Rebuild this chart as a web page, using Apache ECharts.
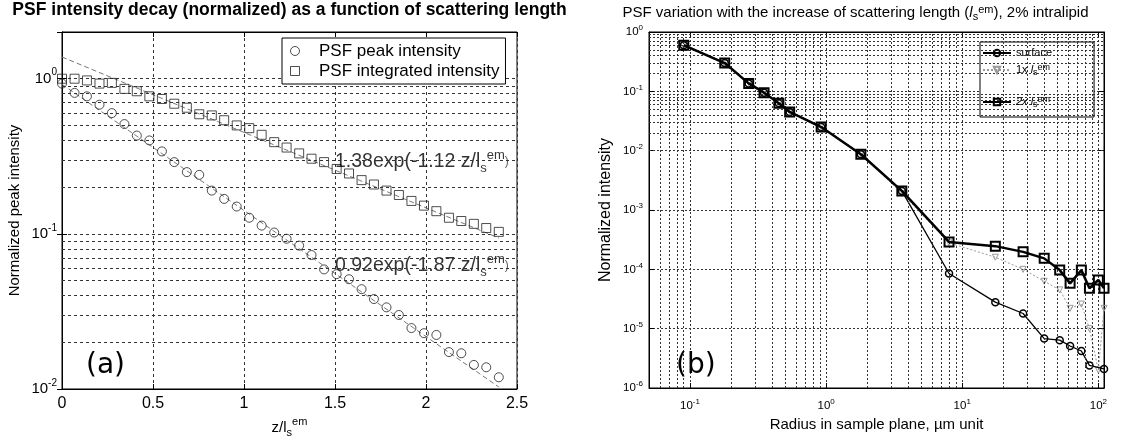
<!DOCTYPE html>
<html><head><meta charset="utf-8">
<script src="https://cdn.jsdelivr.net/npm/echarts@6/dist/echarts.min.js"></script>
<style>html,body{margin:0;padding:0;background:#fff}#c{width:1143px;height:439px}</style>
</head><body><div id="c"></div>
<script>
// ---------- Panel (a) data ----------
const zA = [0,0.069,0.137,0.206,0.274,0.343,0.411,0.48,0.549,0.617,0.686,0.754,0.823,0.891,0.96,1.029,1.097,1.166,1.234,1.303,1.371,1.44,1.509,1.577,1.646,1.714,1.783,1.851,1.92,1.989,2.057,2.126,2.194,2.263,2.331,2.4];
const peakA = [0.93,0.81,0.77,0.68,0.60,0.51,0.43,0.40,0.34,0.29,0.25,0.24,0.19,0.168,0.15,0.127,0.113,0.102,0.093,0.084,0.073,0.059,0.055,0.051,0.044,0.038,0.0336,0.030,0.0247,0.0229,0.0223,0.0173,0.017,0.0143,0.0138,0.0119];
const intA = [1.0,1.0,0.975,0.93,0.94,0.86,0.83,0.77,0.74,0.69,0.65,0.59,0.58,0.54,0.50,0.48,0.435,0.39,0.36,0.33,0.305,0.29,0.262,0.245,0.222,0.208,0.19,0.178,0.163,0.152,0.14,0.127,0.121,0.116,0.109,0.103];
const fitIntA = [[0,1.38],[2.4,0.094]];
const fitPeakA = [[0,0.92],[2.4,0.0103]];
const annotA = [[1.5,0.29],[1.5,0.062]];
const annotTextA = ['1.38exp(-1.12 z/l{sub|s}{sup|em})','0.92exp(-1.87 z/l{sub|s}{sup|em})'];
const yMinorA = [0.02,0.03,0.04,0.05,0.06,0.07,0.08,0.09,0.2,0.3,0.4,0.5,0.6,0.7,0.8,0.9];

// ---------- Panel (b) data ----------
const rSurf = [0.09,0.18,0.27,0.35,0.45,0.54,0.92,1.8,3.6,8,17.5,28,40,52,62,75,86,110];
const surfB = [0.60,0.30,0.136,0.095,0.063,0.045,0.025,0.0087,0.0021,8.5e-5,2.8e-5,1.8e-5,6.8e-6,6.4e-6,5.1e-6,4.2e-6,2.4e-6,2.1e-6];
const rB = [0.09,0.18,0.27,0.35,0.45,0.54,0.92,1.8,3.6,8,17.5,28,40,52,62,75,86,100,110];
const x1B = [0.58,0.29,0.14,0.097,0.064,0.046,0.026,0.0088,0.0019,2.8e-4,1.6e-4,1.0e-4,6.3e-5,4.5e-5,2.2e-5,2.6e-5,1.0e-5,2.0e-6,2.2e-5];
const x2B = [0.60,0.30,0.136,0.095,0.063,0.045,0.025,0.0087,0.0021,2.9e-4,2.46e-4,1.97e-4,1.53e-4,9.7e-5,5.8e-5,9.7e-5,4.8e-5,6.6e-5,4.8e-5];
const xMinorB = [0.06,0.07,0.08,0.09,0.2,0.3,0.4,0.5,0.6,0.7,0.8,0.9,2,3,4,5,6,7,8,9,20,30,40,50,60,70,80,90];
const yMinorB = [2e-6,3e-6,4e-6,5e-6,6e-6,7e-6,8e-6,9e-6,2e-5,3e-5,4e-5,5e-5,6e-5,7e-5,8e-5,9e-5,2e-4,3e-4,4e-4,5e-4,6e-4,7e-4,8e-4,9e-4,0.002,0.003,0.004,0.005,0.006,0.007,0.008,0.009,0.02,0.03,0.04,0.05,0.06,0.07,0.08,0.09,0.2,0.3,0.4,0.5,0.6,0.7,0.8,0.9];

const FF = 'Liberation Sans, Arial, Helvetica, sans-serif';

function pow10Label(v) {
  const l = Math.log10(v); const e = Math.round(l);
  if (Math.abs(l - e) > 1e-6) return '';
  return '{b|10}{sup|' + e + '}';
}
function richPow(fs, sfs, lh) {
  return {
    b: {fontSize: fs, lineHeight: lh, color: '#000', fontFamily: FF},
    sup: {fontSize: sfs, lineHeight: sfs, verticalAlign: 'top', color: '#000', fontFamily: FF}
  };
}
function richSubSup(fs, sfs, lh) {
  return {
    t: {fontSize: fs, lineHeight: lh, color: '#000', fontFamily: FF},
    i: {fontSize: fs, lineHeight: lh, color: '#000', fontFamily: FF, fontStyle: 'italic'},
    sub: {fontSize: sfs, lineHeight: sfs, verticalAlign: 'bottom', color: '#000', fontFamily: FF},
    sup: {fontSize: sfs, lineHeight: sfs, verticalAlign: 'top', color: '#000', fontFamily: FF}
  };
}
function gridSeries(xi, yi, xs, ys, style) {
  return {type: 'line', xAxisIndex: xi, yAxisIndex: yi, data: [], silent: true, z: 1,
    markLine: {silent: true, symbol: ['none', 'none'], animation: false, label: {show: false},
      lineStyle: style, emphasis: {disabled: true},
      data: xs.map(v => ({xAxis: v})).concat(ys.map(v => ({yAxis: v})))}};
}

const gridStyleA = {type: [3, 3], color: '#333', width: 1};
const gridStyleB = {type: [2, 2], color: '#333', width: 1};
const tickIn = {show: true, inside: true, length: 5, lineStyle: {color: '#000'}};
const axLine = {show: true, lineStyle: {color: '#000', width: 1}};

const chart = echarts.init(document.getElementById('c'));
const option = {
  animation: false,
  backgroundColor: '#fff',
  textStyle: {fontFamily: FF},
  title: [
    {text: '(a)', left: 81, top: 347, textStyle: {fontSize: 28, fontWeight: 'normal', color: '#000', fontFamily: 'DejaVu Sans'}},
    {text: '(b)', left: 671, top: 347, textStyle: {fontSize: 28, fontWeight: 'normal', color: '#000', fontFamily: 'DejaVu Sans'}}
  ],
  grid: [
    {left: 62, top: 32, width: 455, height: 357, show: true, borderColor: '#000', borderWidth: 1, backgroundColor: 'transparent', containLabel: false, outerBoundsMode: 'none'},
    {left: 649, top: 32, width: 455, height: 356, show: true, borderColor: '#000', borderWidth: 1, backgroundColor: 'transparent', containLabel: false, outerBoundsMode: 'none'}
  ],
  legend: [
    {data: [{name: 'PSF peak intensity', icon: 'circle'}, {name: 'PSF integrated intensity', icon: 'path://M0,0H10V10H0Z'}],
      left: 282, top: 38, orient: 'vertical', symbolKeepAspect: true,
      itemWidth: 38, itemHeight: 9, itemGap: 2, padding: [4, 6, 4, 8], borderColor: '#000', borderWidth: 1,
      backgroundColor: '#fff', selectedMode: false, z: 5, itemStyle: {borderWidth: 1},
      textStyle: {fontSize: 17, color: '#000', fontFamily: FF, lineHeight: 18}},
    {data: ['surface'], left: 980, top: 42, orient: 'vertical', itemWidth: 28, itemHeight: 8,
      padding: [4, 42, 57, 2], borderColor: '#000', borderWidth: 1, backgroundColor: '#fff', selectedMode: false, z: 5,
      textStyle: {fontSize: 11, color: '#000', fontFamily: FF, lineHeight: 14}},
    {data: ['1x'], left: 982, top: 63, orient: 'vertical', itemWidth: 28, itemHeight: 8, padding: 0,
      selectedMode: false, z: 6, formatter: n => '{t|' + n + ' }{i|l}{sub|s}{sup|em}',
      textStyle: {fontSize: 11, color: '#000', fontFamily: FF, rich: richSubSup(11, 9, 14)}},
    {data: ['2x'], left: 982, top: 95, orient: 'vertical', itemWidth: 28, itemHeight: 8, padding: 0,
      selectedMode: false, z: 6, formatter: n => '{i|' + n + ' l}{sub|s}{sup|em}',
      textStyle: {fontSize: 11, color: '#000', fontFamily: FF, rich: richSubSup(11, 9, 14)}}
  ],
  xAxis: [
    {gridIndex: 0, type: 'value', min: 0, max: 2.5, interval: 0.5, position: 'bottom',
      axisLine: axLine, axisTick: tickIn,
      axisLabel: {fontSize: 16, color: '#000', margin: 7, fontFamily: FF},
      splitLine: {show: true, lineStyle: gridStyleA},
      name: '{t|z/l}{sub|s}{sup|em}', nameLocation: 'middle', nameGap: 23,
      nameTextStyle: {fontSize: 15, color: '#000', rich: richSubSup(15, 11, 22)}},
    {gridIndex: 0, type: 'value', min: 0, max: 2.5, interval: 0.5, position: 'top',
      axisLine: axLine, axisTick: tickIn, axisLabel: {show: false}, splitLine: {show: false},
      name: 'PSF intensity decay (normalized) as a function of scattering length', nameLocation: 'middle', nameGap: 12,
      nameTextStyle: {fontSize: 17.5, fontWeight: 'bold', color: '#000', fontFamily: FF, lineHeight: 20}},
    {gridIndex: 1, type: 'log', logBase: 10, min: 0.05, max: 110, position: 'bottom',
      axisLine: axLine, axisTick: tickIn,
      axisLabel: {formatter: pow10Label, margin: 10, rich: richPow(11.5, 8, 16)},
      splitLine: {show: true, lineStyle: gridStyleB},
      name: 'Radius in sample plane, \u00b5m unit', nameLocation: 'middle', nameGap: 29,
      nameTextStyle: {fontSize: 15, color: '#000', fontFamily: FF}},
    {gridIndex: 1, type: 'log', logBase: 10, min: 0.05, max: 110, position: 'top',
      axisLine: axLine, axisTick: tickIn, axisLabel: {show: false}, splitLine: {show: false},
      name: '{t|PSF variation with the increase of scattering length (}{i|l}{sub|s}{sup|em}{t|), 2% intralipid}',
      nameLocation: 'middle', nameGap: 10,
      nameTextStyle: {fontSize: 15, color: '#000', padding: [0, 42, 0, 0], rich: richSubSup(15, 11, 18)}}
  ],
  yAxis: [
    {gridIndex: 0, type: 'log', logBase: 10, min: 0.01, max: 2, position: 'left',
      axisLine: axLine, axisTick: tickIn,
      axisLabel: {formatter: pow10Label, margin: 5, rich: richPow(15, 10, 22)},
      splitLine: {show: true, lineStyle: gridStyleA},
      name: 'Normalized peak intensity', nameLocation: 'middle', nameGap: 40,
      nameTextStyle: {fontSize: 15, color: '#000', fontFamily: FF}},
    {gridIndex: 0, type: 'log', logBase: 10, min: 0.01, max: 2, position: 'right',
      axisLine: axLine, axisTick: tickIn, axisLabel: {show: false}, splitLine: {show: false}},
    {gridIndex: 1, type: 'log', logBase: 10, min: 1e-6, max: 1, position: 'left',
      axisLine: axLine, axisTick: tickIn,
      axisLabel: {formatter: pow10Label, margin: 6, rich: richPow(11.5, 8, 16)},
      splitLine: {show: true, lineStyle: gridStyleB},
      name: 'Normalized intensity', nameLocation: 'middle', nameGap: 35,
      nameTextStyle: {fontSize: 16, color: '#000', fontFamily: FF}},
    {gridIndex: 1, type: 'log', logBase: 10, min: 1e-6, max: 1, position: 'right',
      axisLine: axLine, axisTick: tickIn, axisLabel: {show: false}, splitLine: {show: false}}
  ],
  series: [
    gridSeries(0, 0, [], yMinorA, gridStyleA),
    gridSeries(2, 2, xMinorB, yMinorB, gridStyleB),
    {name: 'fitInt', type: 'line', xAxisIndex: 0, yAxisIndex: 0, data: fitIntA, symbol: 'none', z: 2,
      lineStyle: {color: '#777', width: 1, type: [5, 3]}},
    {name: 'fitPeak', type: 'line', xAxisIndex: 0, yAxisIndex: 0, data: fitPeakA, symbol: 'none', z: 2,
      lineStyle: {color: '#777', width: 1, type: [5, 3]}},
    {name: 'PSF peak intensity', type: 'scatter', xAxisIndex: 0, yAxisIndex: 0, z: 3,
      data: zA.map((z, i) => [z, peakA[i]]), symbol: 'circle', symbolSize: 9,
      itemStyle: {color: 'rgba(0,0,0,0)', borderColor: '#222', borderWidth: 1}},
    {name: 'PSF integrated intensity', type: 'scatter', xAxisIndex: 0, yAxisIndex: 0, z: 3,
      data: zA.map((z, i) => [z, intA[i]]), symbol: 'rect', symbolSize: 9,
      itemStyle: {color: 'rgba(0,0,0,0)', borderColor: '#222', borderWidth: 1}},
    {name: 'annot', type: 'scatter', xAxisIndex: 0, yAxisIndex: 0, z: 4, symbolSize: 0, silent: true,
      data: annotA.map((p, i) => ({value: p, label: {formatter: '{t|' + annotTextA[i].replace('{sub', '}{sub') }})),
      label: {show: true, position: 'right', distance: 0, rich: richSubSup(19.5, 13, 26)}},
    {name: '1x', type: 'line', xAxisIndex: 2, yAxisIndex: 2, z: 3,
      data: rB.map((r, i) => [r, x1B[i]]), symbol: 'triangle', symbolRotate: 180, symbolSize: 6,
      itemStyle: {color: 'rgba(0,0,0,0)', borderColor: '#999', borderWidth: 1},
      lineStyle: {color: '#999', width: 1, type: [2, 2]}},
    {name: 'surface', type: 'line', xAxisIndex: 2, yAxisIndex: 2, z: 4,
      data: rSurf.map((r, i) => [r, surfB[i]]), symbol: 'circle', symbolSize: 7,
      itemStyle: {color: 'rgba(0,0,0,0)', borderColor: '#000', borderWidth: 1.5},
      lineStyle: {color: '#000', width: 1.3}},
    {name: '2x', type: 'line', xAxisIndex: 2, yAxisIndex: 2, z: 5,
      data: rB.map((r, i) => [r, x2B[i]]), symbol: 'rect', symbolSize: 9,
      itemStyle: {color: 'rgba(0,0,0,0)', borderColor: '#000', borderWidth: 2},
      lineStyle: {color: '#000', width: 2.5}}
  ]
};
chart.setOption(option);
</script>
</body></html>
